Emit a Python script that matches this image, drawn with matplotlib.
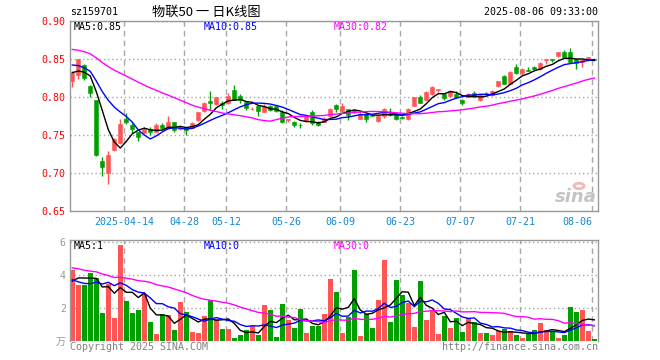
import numpy as np
import matplotlib
matplotlib.use("Agg")
import matplotlib.pyplot as plt
from matplotlib.patches import Circle

# ---------------- data ----------------
dates = ["03-31",
         "04-01", "04-02", "04-03", "04-07", "04-08", "04-09", "04-10", "04-11", "04-14", "04-15",
         "04-16", "04-17", "04-18", "04-21", "04-22", "04-23", "04-24", "04-25", "04-28", "04-29", "04-30",
         "05-06", "05-07", "05-08", "05-09", "05-12", "05-13", "05-14", "05-15", "05-16", "05-19",
         "05-20", "05-21", "05-22", "05-23", "05-26", "05-27", "05-28", "05-29", "05-30",
         "06-03", "06-04", "06-05", "06-06", "06-09", "06-10", "06-11", "06-12", "06-13", "06-16",
         "06-17", "06-18", "06-19", "06-20", "06-23", "06-24", "06-25", "06-26", "06-27", "06-30",
         "07-01", "07-02", "07-03", "07-04", "07-07", "07-08", "07-09", "07-10", "07-11", "07-14",
         "07-15", "07-16", "07-17", "07-18", "07-21", "07-22", "07-23", "07-24", "07-25", "07-28",
         "07-29", "07-30", "07-31",
         "08-01", "08-04", "08-05", "08-06"]

open_ = [0.822, 0.829, 0.843, 0.815, 0.796, 0.716, 0.700, 0.731, 0.740, 0.771,
         0.764, 0.754, 0.753, 0.758, 0.755, 0.764, 0.760, 0.767, 0.758, 0.760,
         0.760, 0.770, 0.782, 0.795, 0.791, 0.793, 0.792, 0.810, 0.802, 0.794,
         0.784, 0.788, 0.781, 0.789, 0.788, 0.781, 0.770, 0.768, 0.764, 0.769,
         0.781, 0.768, 0.768, 0.775, 0.790, 0.782, 0.784, 0.782, 0.772, 0.778,
         0.777, 0.769, 0.775, 0.778, 0.778, 0.774, 0.772, 0.789, 0.800, 0.797,
         0.804, 0.810, 0.804, 0.802, 0.805, 0.797, 0.801, 0.806, 0.797, 0.806,
         0.803, 0.815, 0.828, 0.818, 0.840, 0.832, 0.836, 0.840, 0.837, 0.849,
         0.850, 0.854, 0.859, 0.859, 0.850, 0.847, 0.849, 0.850]

close = [0.832, 0.850, 0.826, 0.805, 0.724, 0.708, 0.724, 0.745, 0.765, 0.768,
         0.758, 0.748, 0.758, 0.754, 0.764, 0.760, 0.767, 0.757, 0.760, 0.757,
         0.766, 0.780, 0.793, 0.792, 0.800, 0.790, 0.802, 0.797, 0.797, 0.786,
         0.785, 0.782, 0.789, 0.783, 0.782, 0.768, 0.771, 0.764, 0.763, 0.775,
         0.766, 0.764, 0.771, 0.785, 0.785, 0.789, 0.777, 0.781, 0.778, 0.772,
         0.776, 0.775, 0.785, 0.777, 0.772, 0.773, 0.785, 0.800, 0.793, 0.807,
         0.813, 0.811, 0.799, 0.808, 0.800, 0.793, 0.805, 0.801, 0.803, 0.805,
         0.808, 0.821, 0.818, 0.833, 0.832, 0.837, 0.835, 0.837, 0.845, 0.850,
         0.849, 0.859, 0.853, 0.846, 0.845, 0.849, 0.853, 0.849]

high = [0.834, 0.851, 0.844, 0.816, 0.797, 0.721, 0.729, 0.747, 0.771, 0.779,
        0.766, 0.755, 0.761, 0.761, 0.766, 0.766, 0.775, 0.768, 0.763, 0.761,
        0.767, 0.781, 0.794, 0.808, 0.801, 0.795, 0.805, 0.816, 0.804, 0.795,
        0.787, 0.789, 0.791, 0.790, 0.789, 0.783, 0.772, 0.769, 0.766, 0.776,
        0.783, 0.769, 0.774, 0.786, 0.791, 0.792, 0.785, 0.784, 0.781, 0.779,
        0.778, 0.776, 0.786, 0.786, 0.779, 0.776, 0.786, 0.801, 0.803, 0.808,
        0.815, 0.811, 0.805, 0.809, 0.808, 0.798, 0.806, 0.808, 0.804, 0.807,
        0.809, 0.822, 0.829, 0.834, 0.844, 0.838, 0.840, 0.841, 0.846, 0.851,
        0.850, 0.860, 0.862, 0.865, 0.851, 0.850, 0.853, 0.850]

low = [0.814, 0.824, 0.823, 0.800, 0.723, 0.697, 0.686, 0.729, 0.739, 0.765,
       0.753, 0.743, 0.752, 0.750, 0.754, 0.758, 0.759, 0.754, 0.757, 0.750,
       0.759, 0.769, 0.781, 0.783, 0.790, 0.784, 0.791, 0.796, 0.793, 0.783,
       0.783, 0.775, 0.780, 0.782, 0.781, 0.766, 0.768, 0.761, 0.760, 0.768,
       0.764, 0.762, 0.767, 0.774, 0.780, 0.781, 0.770, 0.779, 0.771, 0.767,
       0.775, 0.768, 0.773, 0.775, 0.770, 0.772, 0.770, 0.788, 0.792, 0.796,
       0.803, 0.807, 0.797, 0.801, 0.799, 0.790, 0.800, 0.800, 0.795, 0.803,
       0.802, 0.814, 0.817, 0.817, 0.831, 0.829, 0.834, 0.836, 0.836, 0.844,
       0.847, 0.853, 0.852, 0.845, 0.837, 0.840, 0.848, 0.849]

volume = [4.27, 3.36, 3.36, 4.09, 3.82, 1.66, 3.44, 1.38, 5.79, 2.39,
          1.66, 1.85, 2.82, 1.12, 0.39, 1.60, 1.53, 0.63, 2.33, 1.73,
          0.52, 0.45, 1.48, 2.45, 1.29, 0.68, 0.68, 0.15, 0.32, 0.63,
          0.91, 0.32, 2.15, 1.85, 0.25, 2.20, 1.28, 0.76, 1.90, 0.44,
          0.87, 0.87, 1.60, 3.72, 2.93, 0.44, 1.41, 4.27, 0.26, 1.62,
          0.75, 2.44, 4.88, 1.12, 3.66, 2.75, 2.28, 0.82, 3.62, 1.24,
          1.88, 0.38, 1.48, 0.76, 1.40, 0.55, 1.38, 1.12, 0.46, 0.45,
          0.36, 0.56, 0.73, 0.60, 0.32, 0.15, 0.42, 0.67, 1.05, 0.67,
          0.55, 0.15, 0.32, 2.05, 1.73, 1.88, 0.58, 0.08]

# 29 sessions before the window (estimated from where the MA lines start)
pre_close = [0.880, 0.884, 0.888, 0.886, 0.890, 0.887, 0.884, 0.882, 0.885, 0.878,
             0.872, 0.868, 0.865, 0.862, 0.860, 0.858, 0.855, 0.857, 0.860, 0.862,
             0.858, 0.855, 0.852, 0.850, 0.848, 0.839, 0.834, 0.830, 0.827]
pre_volume = [5.2, 6.0, 5.8, 5.0, 5.6, 6.2, 5.1, 5.1, 4.2, 3.5,
              4.6, 3.8, 3.2, 4.5, 3.9, 3.6, 4.0, 5.8, 5.2, 5.4,
              4.6, 4.3, 4.3, 2.9, 2.75, 2.4, 3.4, 4.1, 3.9]

tick_dates = ["04-14", "04-28", "05-12", "05-26", "06-09", "06-23", "07-07", "07-21", "08-06"]
tick_labels = ["2025-04-14", "04-28", "05-12", "05-26", "06-09", "06-23", "07-07", "07-21", "08-06"]
price_ticks = [0.65, 0.70, 0.75, 0.80, 0.85, 0.90]
vol_ticks = [0, 2, 4, 6]
vol_tick_labels = ["万", "2", "4", "6"]
price_ma_text = ["MA5:0.85", "MA10:0.85", "MA30:0.82"]
vol_ma_text = ["MA5:1", "MA10:0", "MA30:0"]
code_text = "sz159701"
title_text = "物联50 一 日K线图"
stamp_text = "2025-08-06 09:33:00"
copyright_text = "Copyright 2025 SINA.COM"
url_text = "http://finance.sina.com.cn"

# ---------------- style ----------------
RED = "#ff5555"
GREEN = "#00a000"
MA_COLORS = ["#000000", "#0000ff", "#ff00ff"]
GRID = "#a8a8a8"
SPINE = "#999999"
DATE_COL = "#1188d8"
MONO = ["DejaVu Sans Mono", "Noto Sans CJK SC"]
plt.rcParams["font.family"] = MONO
FS = 7.2

W, H = 660, 360
fig = plt.figure(figsize=(W / 100, H / 100), dpi=100)


def px_axes(left, top, right, bottom):
    return fig.add_axes([left / W, (H - bottom) / H, (right - left) / W, (bottom - top) / H])


def ftext(x, y, s, **kw):
    fig.text(x / W, 1 - y / H, s, **kw)


n = len(close)
x = np.arange(n)
o = np.array(open_)
c = np.array(close)
hi = np.array(high)
lo = np.array(low)
v = np.array(volume)
up = c > o
colors = np.where(up, RED, GREEN)


def moving_avg(pre, vals, k):
    full = np.concatenate([pre, vals])
    out = np.convolve(full, np.ones(k) / k, mode="valid")
    return out[-len(vals):]


XL = (-0.383, 87.617)
grid_pos = [dates.index(d) - 1 / 3 for d in tick_dates]

# ---------------- price axes ----------------
ax = px_axes(70, 21.3, 598, 211.3)
ax.set_xlim(*XL)
ax.set_ylim(price_ticks[0], price_ticks[-1])
ax.set_axisbelow(True)

body_bottom = np.minimum(o, c)
body_h = np.maximum(np.abs(c - o), 0.0004)
ax.vlines(x, lo, hi, colors=colors, lw=1, zorder=2)
ax.bar(x, body_h, bottom=body_bottom, width=0.72, color=colors,
       edgecolor=colors, linewidth=0.4, zorder=2.1)

for k, col in zip([5, 10, 30], MA_COLORS):
    ax.plot(x, moving_avg(pre_close, c, k), color=col, lw=1, zorder=3)

ax.set_yticks(price_ticks)
ax.set_yticklabels([f"{t:.2f}" for t in price_ticks])
ax.set_xticks(grid_pos)
ax.set_xticklabels(tick_labels)
ax.tick_params(axis="y", length=0, pad=3, labelcolor="#ff0000", labelsize=FS)
ax.tick_params(axis="x", length=0, pad=4, labelcolor=DATE_COL, labelsize=FS)
lbls = ax.get_xticklabels()
lbls[-1].set_horizontalalignment("right")
ax.grid(axis="y", linestyle=(0, (1, 2)), color=GRID, lw=1)
ax.grid(axis="x", linestyle=(0, (4, 3)), color=GRID, lw=1)
for s in ax.spines.values():
    s.set_color(SPINE)
    s.set_linewidth(1)

for txt, col, xp in zip(price_ma_text, MA_COLORS, [74, 204, 334]):
    ftext(xp, 27, txt, color=col, fontsize=FS, ha="left", va="center")

# sina watermark
ax.text(0.998, 0.03, "sina", transform=ax.transAxes, ha="right", va="bottom",
        fontsize=13, fontweight="bold", style="italic", color="#c4c4c4",
        family="DejaVu Sans", zorder=1)
fig.patches.append(Circle((579 / W, 1 - 186 / H), 5 / W, transform=fig.transFigure,
                          facecolor="none", edgecolor="#f2b8b8", lw=2))

# ---------------- volume axes ----------------
axv = px_axes(70, 240.3, 598, 340.7)
axv.set_xlim(*XL)
axv.set_ylim(0, 6.085)
axv.set_axisbelow(True)
axv.bar(x, v, width=0.82, color=colors, zorder=2)
for k, col in zip([5, 10, 30], MA_COLORS):
    axv.plot(x, moving_avg(pre_volume, v, k), color=col, lw=1, zorder=3)
axv.set_yticks(vol_ticks)
axv.set_yticklabels(vol_tick_labels)
axv.set_xticks(grid_pos)
axv.set_xticklabels([])
axv.tick_params(axis="y", length=0, pad=3, labelcolor="#999999", labelsize=FS)
axv.tick_params(axis="x", length=0)
axv.grid(axis="y", linestyle=(0, (1, 2)), color=GRID, lw=1)
axv.grid(axis="x", linestyle=(0, (4, 3)), color=GRID, lw=1)
for name, s in axv.spines.items():
    s.set_color(SPINE)
    s.set_linewidth(1)
axv.spines["bottom"].set_visible(False)

for txt, col, xp in zip(vol_ma_text, MA_COLORS, [74, 204, 334]):
    ftext(xp, 246, txt, color=col, fontsize=FS, ha="left", va="center")

# ---------------- header / footer ----------------
ftext(70, 12, code_text, fontsize=FS, ha="left", va="center", color="black")
ftext(206, 12, title_text, fontsize=9.5, ha="center", va="center", color="black",
      family=["Noto Sans CJK SC", "DejaVu Sans"])
ftext(598, 12, stamp_text, fontsize=FS, ha="right", va="center", color="black")
ftext(70, 347, copyright_text, fontsize=FS, ha="left", va="center", color="#808080")
ftext(598, 347, url_text, fontsize=FS, ha="right", va="center", color="#808080")

fig.savefig("out.png", dpi=100)
